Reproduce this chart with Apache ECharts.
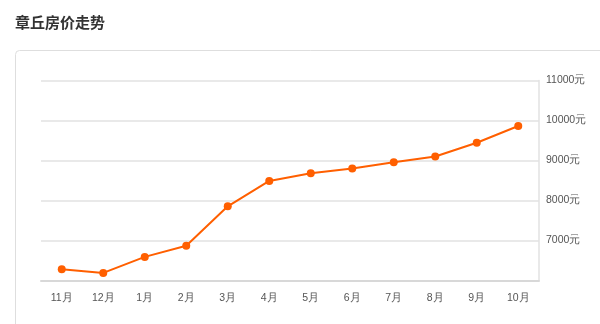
<!DOCTYPE html>
<html><head><meta charset="utf-8">
<script src="https://cdn.jsdelivr.net/npm/echarts@6/dist/echarts.min.js"></script>
<style>html,body{margin:0;padding:0;background:#fff}#c{width:600px;height:324px}</style>
</head><body><div id="c"></div>
<script>
const titleText = '章丘房价走势';
const months = ['11月','12月','1月','2月','3月','4月','5月','6月','7月','8月','9月','10月'];
const prices = [6280, 6190, 6590, 6870, 7855, 8490, 8680, 8800, 8955, 9100, 9445, 9862];
const yMin = 6000, yMax = 11000, yStep = 1000;
const unit = '元';

const chart = echarts.init(document.getElementById('c'), null, {renderer:'canvas'});
chart.setOption({
  animation:false,
  title:{text:titleText,left:10,top:10,textStyle:{fontSize:15,fontWeight:'bold',color:'#333',fontFamily:'"Noto Sans CJK SC",sans-serif'}},
  graphic:[{type:'rect',left:15,top:50,shape:{width:600,height:300,r:4},style:{fill:'#fff',stroke:'#dedede',lineWidth:1},z:-10}],
  grid:{left:41,right:61,top:80.5,height:200},
  xAxis:{type:'category',data:months,boundaryGap:true,
    axisLine:{lineStyle:{color:'#d8d8d8',width:2}},
    axisTick:{alignWithLabel:true,length:4,lineStyle:{color:'#ccc'}},
    axisLabel:{color:'#555',fontSize:10.5,margin:12,fontFamily:'"Liberation Sans",sans-serif'}},
  yAxis:{type:'value',position:'right',min:yMin,max:yMax,interval:yStep,
    axisLine:{show:true,lineStyle:{color:'#e2e2e2',width:1.5}},
    axisTick:{show:false},
    splitLine:{lineStyle:{color:'#e2e2e2',width:1.5}},
    axisLabel:{showMinLabel:false,color:'#555',fontSize:10.5,margin:7,fontFamily:'"Liberation Sans",sans-serif',formatter:v=>v+unit}},
  series:[{type:'line',data:prices,symbol:'circle',symbolSize:8,
    lineStyle:{color:'#ff5f00',width:2},itemStyle:{color:'#ff5f00'}}]
});
</script></body></html>
